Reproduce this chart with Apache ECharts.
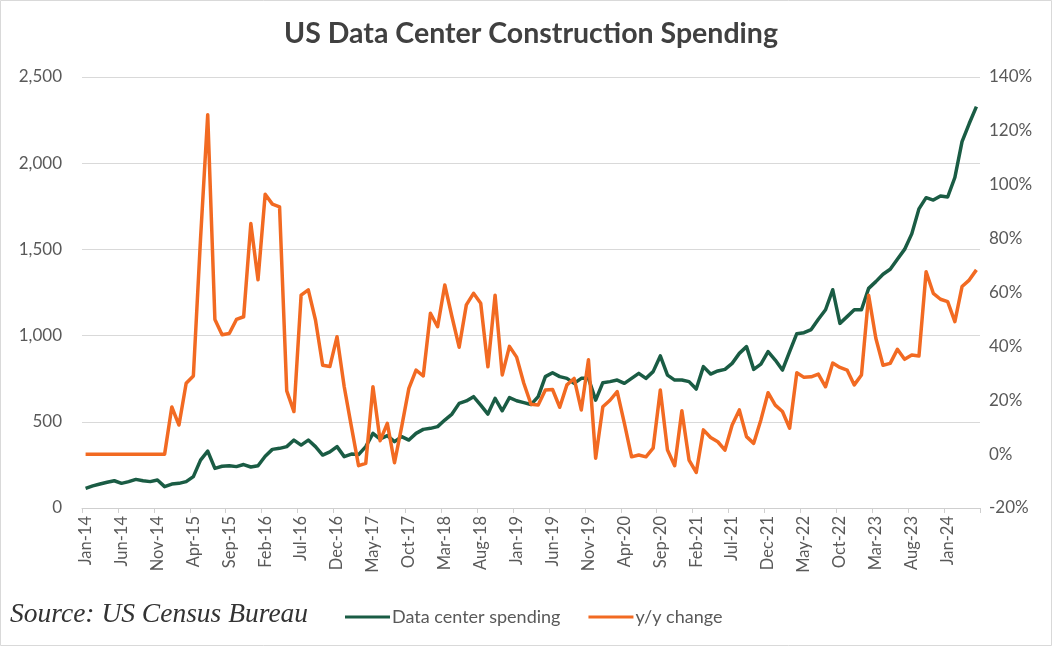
<!DOCTYPE html>
<html>
<head>
<meta charset="utf-8">
<script src="https://cdn.jsdelivr.net/npm/echarts@6/dist/echarts.min.js"></script>
<style>
html,body{margin:0;padding:0;background:#fff;}
#chart{width:1062px;height:657px;}
</style>
</head>
<body>
<div id="chart"></div>
<script>
// Monthly categories Jan-14 .. May-24
const monthNames = ['Jan','Feb','Mar','Apr','May','Jun','Jul','Aug','Sep','Oct','Nov','Dec'];
const categories = [];
for (let y = 14; y <= 24; y++) {
  for (let m = 0; m < 12; m++) {
    if (y === 24 && m > 4) break;
    categories.push(monthNames[m] + '-' + y);
  }
}

// Data center construction spending (left axis, $M)
const spending = [
  114,128,139,149,158,143,153,166,158,153,
  162,124,139,143,153,182,278,330,230,242,
  245,240,252,238,245,300,340,346,356,394,
  365,394,356,307,325,356,298,313,310,356,
  433,400,420,385,414,394,433,456,462,472,
  510,545,607,621,646,597,545,636,564,640,
  622,611,600,646,762,785,762,752,723,752,
  752,626,727,733,742,723,752,781,752,791,
  882,771,742,742,733,690,820,777,795,804,
  839,897,936,804,835,907,858,800,907,1011,
  1017,1035,1095,1150,1266,1071,1110,1150,1150,1274,
  1313,1356,1385,1443,1500,1590,1735,1800,1786,1810,
  1804,1917,2125,2230,2328
];

// Year-over-year change (right axis, %)
const yoy = [
  0,0,0,0,0,0,0,0,0,0,
  0,0,17.5,10.8,26.3,29,80,126,50,44.3,
  44.8,50,51,85.6,64.7,96.5,92.8,91.8,23.5,15.8,
  59,61,49.8,33,32.5,43.6,25,10.2,-4.3,-3.4,
  25,5,11.4,-3.2,10.2,24.4,31.2,29,52.3,47.3,
  62.8,51,39.7,55.4,59.7,56,32.4,59,29.4,40,
  36,26.3,18.5,18.2,23.8,24,17.4,25.7,28.1,16.4,
  35,-1.5,17.6,20,23.2,11.4,-1,-0.3,-1,2.2,
  23.8,1.5,-4.3,16.1,-2.2,-6.8,9,6.2,4.6,1.5,
  10.8,16.4,6.5,4,12.7,22.8,18.2,15.8,9.6,30.2,
  28.5,28.7,29.7,25,33.8,32.2,31.2,25.7,29.4,59,
  43,33,33.7,38.9,35.2,36.8,36.4,67.7,59.7,57.5,
  56.6,49.2,62.2,64.6,68.4
];

const seriesNames = ['Data center spending', 'y/y change'];
const titleText = 'US Data Center Construction Spending';
const sourceText = 'Source: US Census Bureau';

const GREEN = '#1a5c44';
const ORANGE = '#f26a22';
const LABEL = '#595959';
const GRID = '#d9d9d9';

const chart = echarts.init(document.getElementById('chart'), null, {renderer: 'canvas'});
chart.setOption({
  backgroundColor: '#fff',
  animation: false,
  title: {
    text: titleText,
    left: 'center',
    top: 14,
    textStyle: {fontFamily: 'Lato', fontWeight: 'bold', fontSize: 28.5, color: '#404040'}
  },
  legend: {
    data: seriesNames,
    left: 340,
    top: 603,
    icon: 'rect',
    itemWidth: 45,
    itemHeight: 3,
    itemGap: 28,
    textStyle: {fontFamily: 'Lato', fontSize: 18, color: LABEL, padding: [0, 0, 0, -3]}
  },
  graphic: [
    {
      type: 'text',
      left: 10,
      top: 601,
      style: {text: sourceText, font: 'italic 27.5px "Liberation Serif"', fill: '#333'}
    },
    {
      type: 'rect',
      shape: {x: 0.5, y: 0.5, width: 1051, height: 645},
      style: {fill: 'none', stroke: '#d9d9d9', lineWidth: 1},
      silent: true,
      z: -1
    }
  ],
  grid: {left: 82, right: 82, top: 77, bottom: 149, containLabel: false},
  xAxis: {
    type: 'category',
    data: categories,
    boundaryGap: true,
    axisLine: {lineStyle: {color: '#cfcfcf', width: 1}},
    axisTick: {show: true, interval: 4, length: 5, lineStyle: {color: '#cfcfcf'}},
    axisLabel: {interval: 4, rotate: 90, fontFamily: 'Lato', fontSize: 16.5, color: LABEL, margin: 8}
  },
  yAxis: [
    {
      type: 'value',
      min: 0, max: 2500, interval: 500,
      axisLine: {show: false}, axisTick: {show: false},
      splitLine: {lineStyle: {color: GRID, width: 1}},
      axisLabel: {
        fontFamily: 'Lato', fontSize: 17, color: LABEL, margin: 20,
        formatter: v => v.toLocaleString('en-US')
      }
    },
    {
      type: 'value',
      min: -20, max: 140, interval: 20,
      axisLine: {show: false}, axisTick: {show: false},
      splitLine: {show: false},
      axisLabel: {fontFamily: 'Lato', fontSize: 17, color: LABEL, margin: 9, formatter: '{value}%'}
    }
  ],
  series: [
    {
      name: seriesNames[0], type: 'line', yAxisIndex: 0, data: spending,
      showSymbol: false, symbol: 'none',
      lineStyle: {color: GREEN, width: 3.5, join: 'round'},
      itemStyle: {color: GREEN}
    },
    {
      name: seriesNames[1], type: 'line', yAxisIndex: 1, data: yoy,
      showSymbol: false, symbol: 'none',
      lineStyle: {color: ORANGE, width: 3.5, join: 'round'},
      itemStyle: {color: ORANGE}
    }
  ]
});
</script>
</body>
</html>
